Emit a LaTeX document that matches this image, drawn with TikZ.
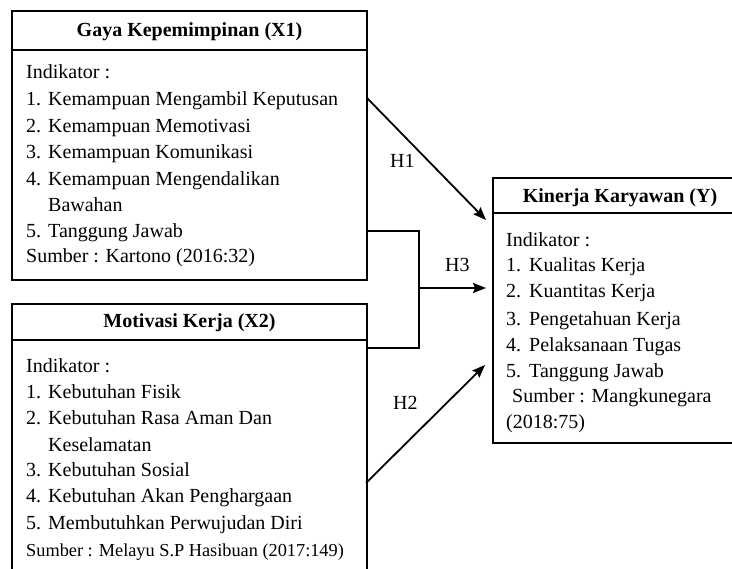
\documentclass[tikz,border=0pt]{standalone}
\usepackage{fontspec}
\setmainfont{Liberation Serif}
\usetikzlibrary{arrows.meta}
\begin{document}
\begin{tikzpicture}[x=1pt,y=-1pt,
  boxst/.style={draw, line width=2.6pt, inner sep=0pt, outer sep=0pt, anchor=north west},
  sepst/.style={line width=2.2pt},
  txt/.style={anchor=base west, inner sep=0pt, font=\fontsize{20}{24}\selectfont},
  smalltxt/.style={anchor=base west, inner sep=0pt, font=\fontsize{18.3}{22}\selectfont},
  ttl/.style={anchor=base, inner sep=0pt, font=\fontsize{20}{24}\selectfont\bfseries},
  conn/.style={line width=1.8pt, -{Stealth[length=13pt,width=10pt,inset=2pt]}},
  brack/.style={line width=2.4pt}]
\clip (0,0) rectangle (732,569);
\fill[white] (0,0) rectangle (732,569);

% ---- box X1
\node[boxst, minimum width=355pt, minimum height=269pt] (x1) at (12,11) {};
\coordinate (x1sa) at (12,50);
\draw[sepst] (x1sa) -- (x1sa -| x1.east);
\node[ttl] (x1t) at (189.5,37) {Gaya Kepemimpinan (X1)};
\node[txt] (x1i) at (26,79) {Indikator :};
\node[txt] (x1n1) at (26,106) {1.};
\node[txt] (x1a) at (48,106) {Kemampuan Mengambil Keputusan};
\node[txt] (x1n2) at (26,133) {2.};
\node[txt] (x1b) at (48,133) {Kemampuan Memotivasi};
\node[txt] (x1n3) at (26,159) {3.};
\node[txt] (x1c) at (48,159) {Kemampuan Komunikasi};
\node[txt] (x1n4) at (26,186) {4.};
\node[txt] (x1d) at (48,186) {Kemampuan Mengendalikan};
\node[txt] (x1d2) at (48,212) {Bawahan};
\node[txt] (x1n5) at (26,238) {5.};
\node[txt] (x1e) at (48,238) {Tanggung Jawab};
\node[txt] (x1s) at (26,262.5) {Sumber : Kartono (2016:32)};

% ---- box X2
\node[boxst, minimum width=355pt, minimum height=320pt] (x2) at (12,304) {};
\coordinate (x2sa) at (12,340);
\draw[sepst] (x2sa) -- (x2sa -| x2.east);
\node[ttl] (x2t) at (189.5,328) {Motivasi Kerja (X2)};
\node[txt] (x2i) at (26,373) {Indikator :};
\node[txt] (x2n1) at (26,399) {1.};
\node[txt] (x2a) at (48,399) {Kebutuhan Fisik};
\node[txt] (x2n2) at (26,425) {2.};
\node[txt] (x2b) at (48,425) {Kebutuhan Rasa Aman Dan};
\node[txt] (x2b2) at (48,452) {Keselamatan};
\node[txt] (x2n3) at (26,477) {3.};
\node[txt] (x2c) at (48,477) {Kebutuhan Sosial};
\node[txt] (x2n4) at (26,503) {4.};
\node[txt] (x2d) at (48,503) {Kebutuhan Akan Penghargaan};
\node[txt] (x2n5) at (26,530) {5.};
\node[txt] (x2e) at (48,530) {Membutuhkan Perwujudan Diri};
\node[smalltxt] (x2s) at (26,557) {Sumber : Melayu S.P Hasibuan (2017:149)};

% ---- box Y
\node[boxst, minimum width=254pt, minimum height=265pt] (y) at (493,178) {};
\coordinate (ysa) at (493,213);
\draw[sepst] (ysa) -- (ysa -| y.east);
\node[ttl] (yt) at (620,203) {Kinerja Karyawan (Y)};
\node[txt] (yi) at (506,247) {Indikator :};
\node[txt] (yn1) at (506,272) {1.};
\node[txt] (ya) at (529,272) {Kualitas Kerja};
\node[txt] (yn2) at (506,298) {2.};
\node[txt] (yb) at (529,298) {Kuantitas Kerja};
\node[txt] (yn3) at (506,326) {3.};
\node[txt] (yc) at (529,326) {Pengetahuan Kerja};
\node[txt] (yn4) at (506,352) {4.};
\node[txt] (yd) at (529,352) {Pelaksanaan Tugas};
\node[txt] (yn5) at (506,378) {5.};
\node[txt] (ye) at (529,378) {Tanggung Jawab};
\node[txt] (ys) at (512,403) {Sumber : Mangkunegara};
\node[txt] (ys2) at (506,429) {(2018:75)};

% ---- connectors
\coordinate (h1a) at (367,98);
\coordinate (h1b) at (486,220);
\draw[conn] (h1a) -- (h1b);
\node[txt] (h1) at (390,168) {H1};

\coordinate (b1) at (367,231);
\coordinate (b2) at (419,231);
\coordinate (b3) at (419,348);
\coordinate (b4) at (367,348);
\draw[brack, line join=miter] (b1) -- (b2) -- (b3) -- (b4);
\coordinate (h3a) at (419,288);
\coordinate (h3b) at (486,288);
\draw[conn] (h3a) -- (h3b);
\node[txt] (h3) at (445,272) {H3};

\coordinate (h2a) at (366,483);
\coordinate (h2b) at (485,365);
\draw[conn] (h2a) -- (h2b);
\node[txt] (h2) at (393,410) {H2};
\end{tikzpicture}
\end{document}
